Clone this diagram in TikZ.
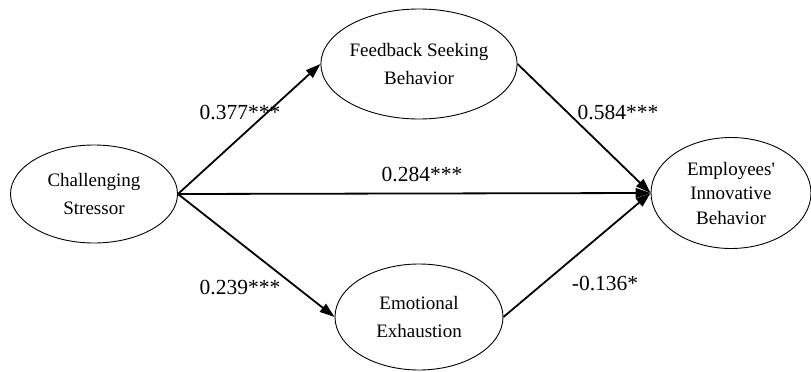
\documentclass[tikz,border=0pt]{standalone}
\usepackage{fontspec}
\setmainfont{Liberation Serif}
\usetikzlibrary{shapes.geometric,arrows.meta}
\tikzset{
  var/.style={ellipse,draw,line width=0.9pt,inner sep=0pt,align=center,
    font=\fontsize{19}{28}\selectfont},
  path/.style={line width=1.8pt,-{Triangle[length=15pt,width=10pt]}},
  coef/.style={font=\fontsize{21.5}{24}\selectfont,inner sep=0pt}
}
\begin{document}
\begin{tikzpicture}[x=1pt,y=-1pt]
\useasboundingbox (0,0) rectangle (811,372);
\node[var,minimum width=167pt,minimum height=98pt] (cs) at (94,194) {Challenging\\Stressor};
\node[var,minimum width=168pt,minimum height=110pt] (fb) at (419,64) {Feedback Seeking\\Behavior};
\node[var,minimum width=168pt,minimum height=106pt] (ee) at (419,317) {Emotional\\Exhaustion};
\node[var,minimum width=160pt,minimum height=111pt,font=\fontsize{19}{24.5}\selectfont] (ib) at (731,193) {Employees\textquotesingle\\Innovative\\Behavior};
\draw[path] (cs.east) -- (fb.west);
\draw[path] (cs.east) -- (ib.west);
\draw[path] (cs.east) -- (ee.west);
\draw[path] (fb.east) -- (ib.west);
\draw[path] (ee.east) -- (ib.west);
\node[coef] (c1) at (240,113) {0.377***};
\node[coef] (c2) at (422,175) {0.284***};
\node[coef] (c3) at (240,287) {0.239***};
\node[coef] (c4) at (618,113) {0.584***};
\node[coef] (c5) at (605,283) {-0.136*};
\end{tikzpicture}
\end{document}
